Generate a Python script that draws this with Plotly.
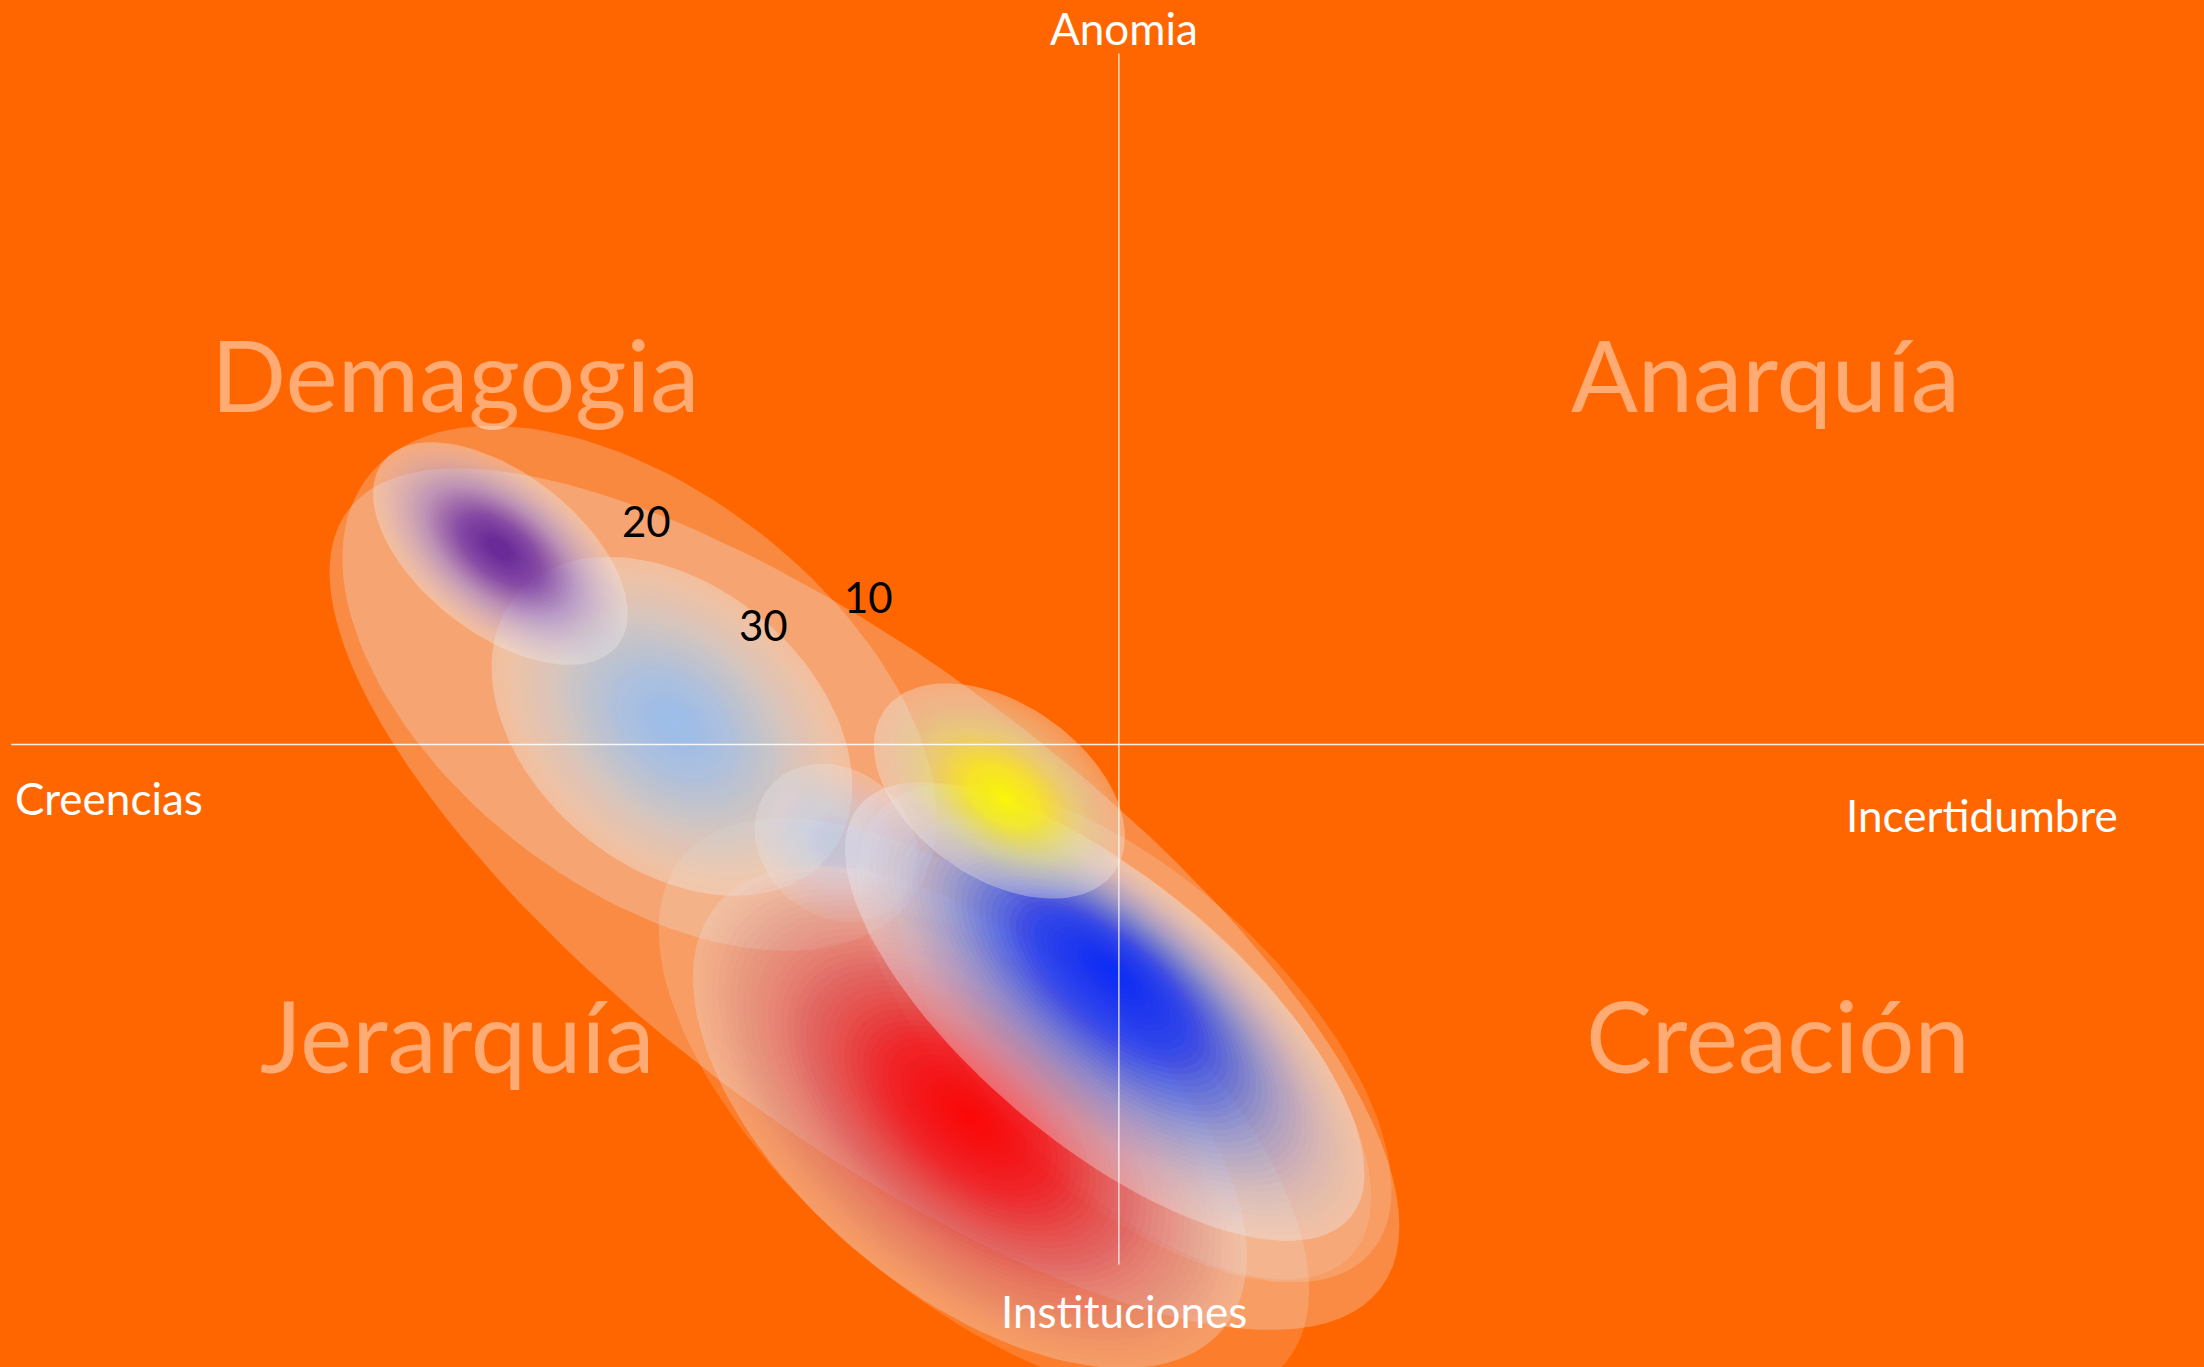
import numpy as np
import plotly.graph_objects as go

# ---------------- data (units: chart units, axes cross at 0,0; x right, y up) ----------------
BG = "#FF6600"
X_RANGE = [-796, 772]
Y_RANGE = [-443, 530]
H_AXIS_X = [-788, 772]
V_AXIS_Y = [492, -370]

axis_titles = ["Anomia", "Creencias", "Incertidumbre", "Instituciones"]
axis_title_x = [4, -787, 614, 4]
axis_title_y = [510, -38, -50, -403]

quadrant_names = ["Demagogia", "Anarquía", "Jerarquía", "Creación"]
quadrant_x = [-472, 460, -471, 469]
quadrant_y = [264, 264, -206, -206]

age_labels = ["20", "30", "10"]
age_x = [-336, -253, -178]
age_y = [159, 85, 105]

# flat translucent halos
halo_cx = [-181, -341, -96, 4, 10]
halo_cy = [-110, 40, -260, -205, -215]
halo_a = [460, 245, 280, 235, 215]
halo_b = [165, 140, 135, 112, 100]
halo_angle = [37, 38, 40, 42, 44]
halo_alpha = [0.28, 0.26, 0.18, 0.18, 0.14]

# gradient ellipses (drawn in this order)
grad_names = ["Celeste", "Morado", "Puente", "Rojo", "Azul", "Amarillo"]
grad_cx = [-318, -440, -201, -106, -10, -85]
grad_cy = [13, 136, -70, -265, -190, -33]
grad_fx = [-316, -441, -201, -106, -4, -81]
grad_fy = [15, 140, -70, -265, -160, -38]
grad_a = [145, 106, 62, 235, 228, 100]
grad_b = [100, 57, 52, 125, 94, 62]
grad_angle = [40, 38, 40, 40, 40, 35]
grad_strength = [1.0, 1.0, 0.8, 1.0, 1.0, 1.0]
# colour stops at relative radius 0, 0.1, 0.35, 0.6, 0.85, 1
grad_colors = [
    ["#A0C3F2", "#A0C3F2", "#AFCBF2", "#C8DAF0", "#E4E4EC", "#F0EBE8"],
    ["#6A2CA0", "#6A2CA0", "#824BB4", "#AF96D7", "#D7CDE6", "#F0E8EC"],
    ["#C4D8F6", "#C4D8F6", "#CCDDF4", "#D8E4F2", "#E6E8F0", "#F0ECEA"],
    ["#FF0000", "#FF0000", "#F02832", "#E15F69", "#E1A0A0", "#EBD2CD"],
    ["#0030FF", "#0030FF", "#1E46FA", "#7891F0", "#C8CDF0", "#EBEBF5"],
    ["#FFFF00", "#FFFF00", "#F5F03C", "#EBE696", "#EBE4D2", "#F0EBE6"],
]
RADII = [0.0, 0.1, 0.35, 0.6, 0.85, 1.0]
OPACITY_R = [0.0, 0.3, 0.6, 0.85, 1.0]
OPACITY_V = [0.98, 0.9, 0.72, 0.5, 0.36]


def hex2rgb(h):
    h = h.lstrip("#")
    return np.array([int(h[i:i + 2], 16) for i in (0, 2, 4)], dtype=float)


def ellipse_xy(cx, cy, a, b, ang, n=120):
    t = np.linspace(0, 2 * np.pi, n)
    th = np.deg2rad(ang)
    ux, uy = np.cos(th), -np.sin(th)
    vx, vy = np.sin(th), np.cos(th)
    x = cx + a * np.cos(t) * ux + b * np.sin(t) * vx
    y = cy + a * np.cos(t) * uy + b * np.sin(t) * vy
    return x, y


def interp_color(r, radii, cols):
    rgb = np.array([hex2rgb(c) for c in cols])
    return np.array([np.interp(r, radii, rgb[:, k]) for k in range(3)])


fig = go.Figure()

for i in range(len(halo_cx)):
    x, y = ellipse_xy(halo_cx[i], halo_cy[i], halo_a[i], halo_b[i], halo_angle[i])
    fig.add_trace(go.Scatter(x=x, y=y, mode="lines", fill="toself", line=dict(width=0),
                             fillcolor=f"rgba(236,238,246,{halo_alpha[i]})", hoverinfo="skip",
                             showlegend=False))

N = 44
for g in range(len(grad_cx)):
    T_prev = 1.0
    P_prev = np.zeros(3)
    for i in range(N):
        r = 1 - i / N
        cx = grad_fx[g] + r * (grad_cx[g] - grad_fx[g])
        cy = grad_fy[g] + r * (grad_cy[g] - grad_fy[g])
        x, y = ellipse_xy(cx, cy, r * grad_a[g], r * grad_b[g], grad_angle[g])
        O = np.interp(r, OPACITY_R, OPACITY_V) * grad_strength[g]
        C = interp_color(r, RADII, grad_colors[g])
        T = 1 - O
        alpha = 1 - T / T_prev
        alpha = min(max(alpha, 0.01), 1.0)
        c = (O * C - (1 - alpha) * P_prev) / alpha
        c = np.clip(c, 0, 255)
        P_prev = alpha * c + (1 - alpha) * P_prev
        T_prev = (1 - alpha) * T_prev
        fig.add_trace(go.Scatter(x=x, y=y, mode="lines", fill="toself", line=dict(width=0),
                                 fillcolor=f"rgba({int(c[0])},{int(c[1])},{int(c[2])},{alpha:.3f})",
                                 hoverinfo="skip", showlegend=False))

# axis lines
fig.add_trace(go.Scatter(x=H_AXIS_X, y=[0, 0], mode="lines",
                         line=dict(color="rgba(255,255,255,0.9)", width=1.5),
                         hoverinfo="skip", showlegend=False))
fig.add_trace(go.Scatter(x=[0, 0], y=V_AXIS_Y, mode="lines",
                         line=dict(color="rgba(255,255,255,0.75)", width=1.5),
                         hoverinfo="skip", showlegend=False))

annotations = []
for t, x, y in zip(axis_titles, axis_title_x, axis_title_y):
    annotations.append(dict(x=x, y=y, text=t, showarrow=False, xref="x", yref="y",
                            xanchor="left" if t == "Creencias" else "center", yanchor="middle",
                            font=dict(family="Lato", size=44, color="white")))
for t, x, y in zip(quadrant_names, quadrant_x, quadrant_y):
    annotations.append(dict(x=x, y=y, text=t, showarrow=False, xref="x", yref="y",
                            xanchor="center", yanchor="middle",
                            font=dict(family="Lato", size=99, color="rgba(255,255,255,0.45)")))
for t, x, y in zip(age_labels, age_x, age_y):
    annotations.append(dict(x=x, y=y, text=t, showarrow=False, xref="x", yref="y",
                            xanchor="center", yanchor="middle",
                            font=dict(family="Lato", size=42, color="black")))

fig.update_layout(
    width=2204, height=1367,
    margin=dict(l=0, r=0, t=0, b=0),
    paper_bgcolor=BG, plot_bgcolor=BG,
    xaxis=dict(range=X_RANGE, visible=False, fixedrange=True),
    yaxis=dict(range=Y_RANGE, visible=False, fixedrange=True),
    annotations=annotations,
    showlegend=False,
)

fig.write_html("out.html", config={"displayModeBar": False},
               post_script="document.body.style.margin='0px';document.body.style.overflow='hidden';"
                           "document.body.style.background='#FF6600';")
